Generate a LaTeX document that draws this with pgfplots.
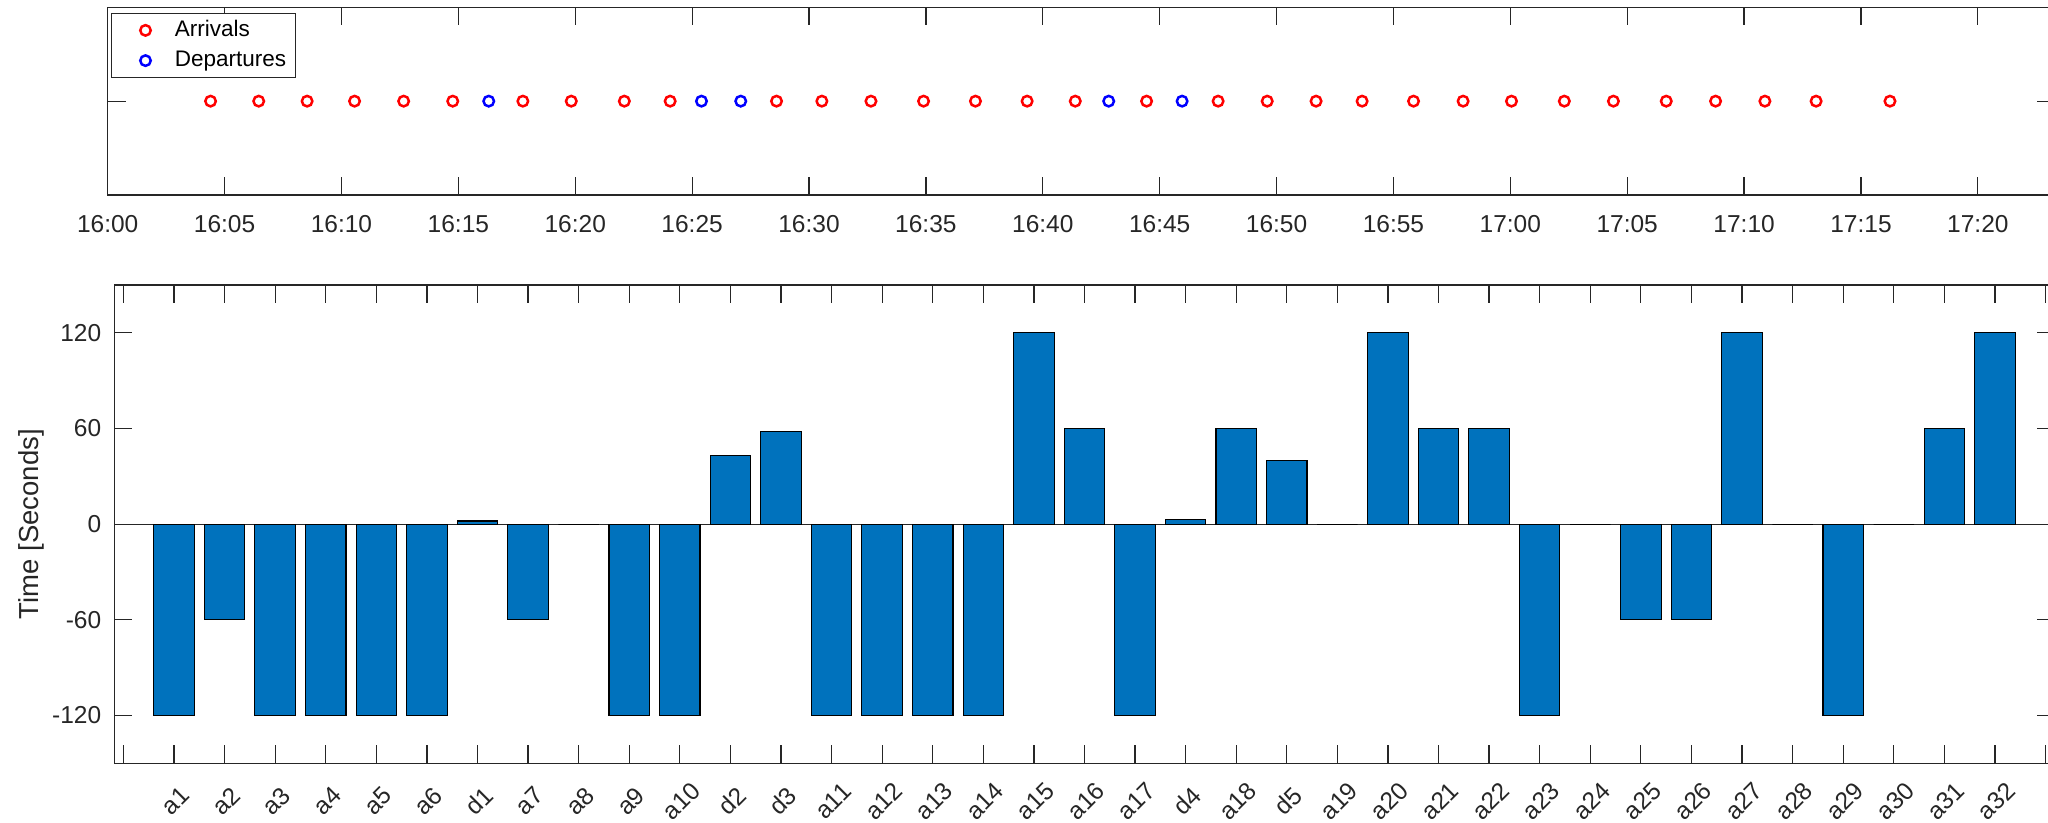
\documentclass[border=0pt]{standalone}
\usepackage{pgfplots}
\pgfplotsset{compat=1.18}
\usepackage{fontspec}
\setmainfont{Liberation Sans}
\definecolor{barblue}{RGB}{0,114,189}
\definecolor{axgray}{RGB}{38,38,38}
\begin{document}
\begin{tikzpicture}
\useasboundingbox (0,0) rectangle (819.2pt,-329.2pt);
\begin{axis}[
  at={(43.08pt,-2.92pt)}, anchor=north west,
  scale only axis, width=778.92pt, height=75.08pt,
  xmin=0, xmax=83.3, ymin=0, ymax=2,
  xtick={0,5,10,15,20,25,30,35,40,45,50,55,60,65,70,75,80},
  xticklabels={16:00,16:05,16:10,16:15,16:20,16:25,16:30,16:35,16:40,16:45,16:50,16:55,17:00,17:05,17:10,17:15,17:20},
  ytick={1}, yticklabels={},
  tick align=inside, major tick length=7.2pt,
  axis line style={axgray, line width=0.5pt},
  every tick/.style={axgray, line width=0.5pt},
  tick label style={font=\fontsize{9.8}{11}\selectfont, text=axgray},
  xticklabel style={yshift=-4.7pt},
  legend cell align=left,
  legend image code/.code={\path (0pt,0pt) (21pt,0pt); \draw[#1] plot coordinates {(12.5pt,0pt)};},
  legend style={at={(axis description cs:0.0017,0.971)}, anchor=north west,
    draw=axgray, line width=0.5pt, font=\fontsize{9}{10.5}\selectfont,
    inner xsep=0.8pt, inner ysep=1.1pt, row sep=0.7pt, column sep=0pt,
    nodes={text height=6.5pt, text depth=1.9pt, inner ysep=1.5pt, inner xsep=3pt}},
]
\addplot[only marks, mark=o, mark size=2.1pt, red, mark options={line width=1pt}] coordinates {
(4.40,1) (6.46,1) (8.53,1) (10.56,1) (12.66,1) (14.76,1) (17.76,1) (19.83,1)
(22.10,1) (24.06,1) (28.61,1) (30.55,1) (32.65,1) (34.90,1) (37.12,1) (39.33,1)
(41.39,1) (44.44,1) (47.50,1) (49.60,1) (51.69,1) (53.66,1) (55.86,1) (57.98,1)
(60.05,1) (62.31,1) (64.41,1) (66.67,1) (68.78,1) (70.89,1) (73.08,1) (76.24,1)
};
\addlegendentry{Arrivals}
\addplot[only marks, mark=o, mark size=2.1pt, blue, mark options={line width=1pt}] coordinates {
(16.30,1) (25.40,1) (27.08,1) (42.82,1) (45.96,1)
};
\addlegendentry{Departures}
\end{axis}

\begin{axis}[
  at={(45.72pt,-114pt)}, anchor=north west,
  scale only axis, width=776.12pt, height=191.32pt,
  xmin=-0.18, xmax=38.18, ymin=-150, ymax=150,
  xtick={0,1,...,38},
  xticklabels={,a1,a2,a3,a4,a5,a6,d1,a7,a8,a9,a10,d2,d3,a11,a12,a13,a14,a15,a16,a17,d4,a18,d5,a19,a20,a21,a22,a23,a24,a25,a26,a27,a28,a29,a30,a31,a32,},
  ytick={-120,-60,0,60,120}, yticklabels={-120,-60,0,60,120},
  tick align=inside, major tick length=7.2pt,
  axis line style={axgray, line width=0.5pt},
  every tick/.style={axgray, line width=0.5pt},
  tick label style={font=\fontsize{9.8}{11}\selectfont, text=axgray},
  xticklabel style={yshift=-15.1pt, xshift=0.6pt, rotate=45, anchor=center},
  yticklabel style={xshift=-1.7pt},
  ylabel={Time [Seconds]},
  ylabel style={at={(axis description cs:-0.0429,0.5)}, anchor=center, font=\fontsize{11}{13}\selectfont, text=axgray},
]
\addplot[axgray, line width=0.5pt, forget plot] coordinates {(-0.18,0) (38.18,0)};
\addplot[ybar, bar width=0.8, fill=barblue, draw=black, line width=0.45pt] coordinates {
(1,-120) (2,-60) (3,-120) (4,-120) (5,-120) (6,-120) (7,2) (8,-60) (9,0) (10,-120)
(11,-120) (12,43) (13,58) (14,-120) (15,-120) (16,-120) (17,-120) (18,120) (19,60) (20,-120)
(21,3) (22,60) (23,40) (24,0) (25,120) (26,60) (27,60) (28,-120) (29,0) (30,-60)
(31,-60) (32,120) (33,0) (34,-120) (35,0) (36,60) (37,120)
};
\end{axis}
\end{tikzpicture}
\end{document}
